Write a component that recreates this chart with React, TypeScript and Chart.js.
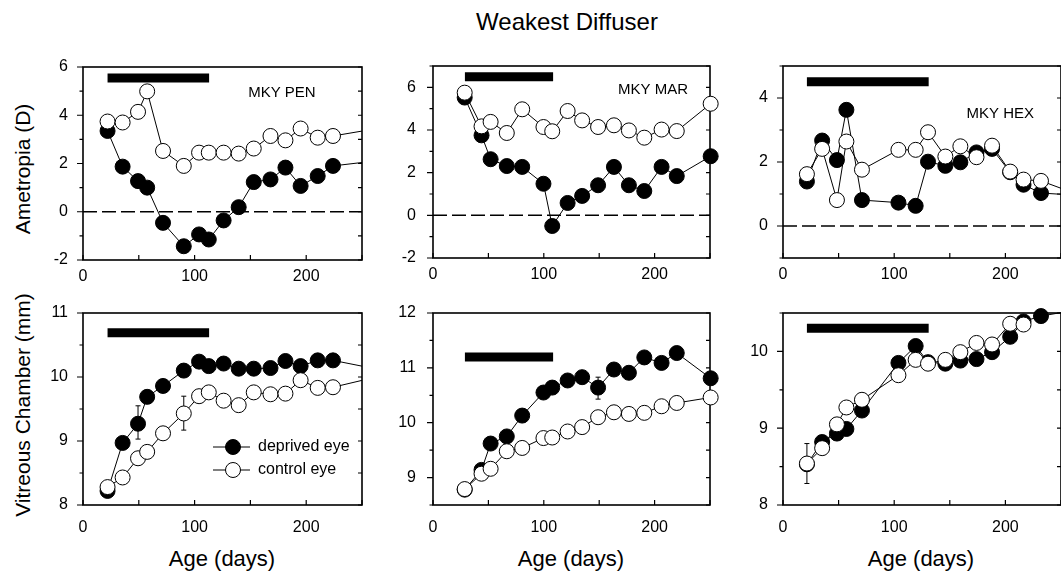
import React, { useEffect, useRef } from "react";
import { Chart, registerables } from "chart.js";

Chart.register(...registerables);

const FONT = "'Liberation Sans', Arial, Helvetica, sans-serif";

// ---------------- data (age in days) ----------------
const penAges = [22, 35.5, 49.3, 57.5, 71.7, 90.3, 104, 112.7, 126, 139.5, 153, 168, 181.4, 195, 210.3, 224, 270];
const penAmetropiaDeprived = [3.35, 1.87, 1.27, 1.0, -0.46, -1.43, -0.94, -1.15, -0.36, 0.19, 1.23, 1.34, 1.83, 1.07, 1.48, 1.9, 2.15];
const penAmetropiaControl = [3.74, 3.7, 4.14, 4.99, 2.52, 1.9, 2.45, 2.45, 2.45, 2.41, 2.62, 3.14, 2.96, 3.45, 3.07, 3.14, 3.5];
const penVitreousDeprived = [8.22, 8.97, 9.27, 9.69, 9.86, 10.1, 10.24, 10.17, 10.21, 10.13, 10.13, 10.14, 10.25, 10.17, 10.26, 10.26, 10.1];
const penVitreousControl = [8.28, 8.43, 8.73, 8.83, 9.12, 9.43, 9.7, 9.76, 9.63, 9.56, 9.76, 9.73, 9.74, 9.95, 9.83, 9.84, 10.03];
const penDiffuserPeriod = [22, 113];

const marAges = [28.6, 43.8, 52, 66.6, 80.5, 99.7, 107.6, 121.5, 134.6, 149, 163.3, 176.8, 190.7, 206.3, 220, 250.6];
const marAmetropiaDeprived = [5.52, 3.75, 2.63, 2.31, 2.27, 1.48, -0.5, 0.58, 0.91, 1.41, 2.27, 1.41, 1.14, 2.27, 1.84, 2.77];
const marAmetropiaControl = [5.75, 4.17, 4.38, 3.86, 4.97, 4.14, 3.94, 4.89, 4.45, 4.14, 4.22, 3.98, 3.64, 4.02, 3.95, 5.23];
const marVitreousDeprived = [8.78, 9.14, 9.62, 9.75, 10.13, 10.55, 10.64, 10.77, 10.83, 10.64, 10.97, 10.91, 11.19, 11.09, 11.27, 10.81];
const marVitreousControl = [8.79, 9.07, 9.16, 9.48, 9.54, 9.72, 9.73, 9.84, 9.92, 10.1, 10.19, 10.16, 10.18, 10.3, 10.36, 10.46];
const marDiffuserPeriod = [28.8, 108.4];

const hexAges = [21.5, 35.2, 48.5, 57, 71, 103.8, 119.3, 130.4, 146, 159.5, 174, 188, 204.3, 216.3, 232, 260];
const hexAmetropiaDeprived = [1.39, 2.67, 2.06, 3.63, 0.81, 0.73, 0.63, 2.01, 1.88, 1.99, 2.3, 2.41, 1.68, 1.29, 1.03, 0.97];
const hexAmetropiaControl = [1.62, 2.41, 0.81, 2.64, 1.76, 2.38, 2.38, 2.93, 2.17, 2.49, 2.15, 2.51, 1.7, 1.45, 1.41, 1.05];
const hexVitreousDeprived = [8.53, 8.82, 8.93, 8.99, 9.23, 9.85, 10.07, 9.86, 9.84, 9.88, 9.9, 9.99, 10.19, 10.39, 10.46, 10.53];
const hexVitreousControl = [8.54, 8.74, 9.05, 9.27, 9.37, 9.69, 9.89, 9.84, 9.89, 9.99, 10.11, 10.09, 10.36, 10.35, null, null];
const hexDiffuserPeriod = [21.5, 131];

// error bars: [age, low, high]
const penVitreousErrDeprived = [[49.3, 9.03, 9.55]];
const penVitreousErrControl = [[90.3, 9.17, 9.7]];
const marVitreousErrDeprived = [[149, 10.43, 10.83]];
const hexVitreousErrControl = [[21.5, 8.28, 8.8]];

const xTickLabels = [0, 100, 200];
const legendLabels = ["deprived eye", "control eye"];

type Panel = {
  key: string;
  L: number; T: number; R: number; B: number;
  ages: number[];
  deprived: (number | null)[];
  control: (number | null)[];
  period: number[];
  barY: number;
  yMin: number; yMax: number; yStep: number; yMajor: number;
  zero: boolean;
  label?: string; labelX?: number; labelY?: number;
  yPad: number; xPad: number;
  clipRight: number;
  errs: number[][];
  legend?: boolean;
};

const panels: Panel[] = [
  { key: "pa", L: 83, T: 67, R: 362, B: 260, ages: penAges, deprived: penAmetropiaDeprived, control: penAmetropiaControl,
    period: penDiffuserPeriod, barY: 5.54, yMin: -2, yMax: 6, yStep: 1, yMajor: 2, zero: true,
    label: "MKY PEN", labelX: 148, labelY: 4.94, yPad: 7, xPad: -1, clipRight: 0, errs: [] },
  { key: "ma", L: 433, T: 66, R: 710, B: 258, ages: marAges, deprived: marAmetropiaDeprived, control: marAmetropiaControl,
    period: marDiffuserPeriod, barY: 6.5, yMin: -2, yMax: 7, yStep: 1, yMajor: 2, zero: true,
    label: "MKY MAR", labelX: 167, labelY: 5.9, yPad: 9, xPad: -1, clipRight: 10, errs: [] },
  { key: "ha", L: 783, T: 66, R: 1061, B: 258, ages: hexAges, deprived: hexAmetropiaDeprived, control: hexAmetropiaControl,
    period: hexDiffuserPeriod, barY: 4.51, yMin: -1, yMax: 5, yStep: 1, yMajor: 2, zero: true,
    label: "MKY HEX", labelX: 165, labelY: 3.52, yPad: 7, xPad: -1, clipRight: 0, errs: [] },
  { key: "pv", L: 83, T: 313, R: 362, B: 505, ages: penAges, deprived: penVitreousDeprived, control: penVitreousControl,
    period: penDiffuserPeriod, barY: 10.69, yMin: 8, yMax: 11, yStep: 0.5, yMajor: 1, zero: false,
    yPad: 7, xPad: 5, clipRight: 0, errs: [...penVitreousErrDeprived, ...penVitreousErrControl], legend: true },
  { key: "mv", L: 433, T: 313, R: 710, B: 505, ages: marAges, deprived: marVitreousDeprived, control: marVitreousControl,
    period: marDiffuserPeriod, barY: 11.2, yMin: 8.5, yMax: 12, yStep: 0.5, yMajor: 1, zero: false,
    yPad: 9, xPad: 5, clipRight: 10, errs: marVitreousErrDeprived },
  { key: "hv", L: 783, T: 313, R: 1061, B: 505, ages: hexAges, deprived: hexVitreousDeprived, control: hexVitreousControl,
    period: hexDiffuserPeriod, barY: 10.3, yMin: 8, yMax: 10.5, yStep: 0.5, yMajor: 1, zero: false,
    yPad: 7, xPad: 5, clipRight: 0, errs: hexVitreousErrControl },
];

const isMajor = (v: number, m: number) => Math.abs(v - Math.round(v / m) * m) < 1e-6;

const PADL = 80, PADT = 30, PADR = 10, PADB = 40;

function makePlugin(p: Panel) {
  return {
    id: "panelFrame",
    beforeDatasetsDraw(chart: any) {
      const { ctx, chartArea: a } = chart;
      const xs = chart.scales.x, ys = chart.scales.y;
      ctx.save();
      ctx.strokeStyle = "#000";
      if (p.zero) {
        const py = ys.getPixelForValue(0);
        ctx.setLineDash([14, 5]);
        ctx.lineWidth = 1.5;
        ctx.beginPath();
        ctx.moveTo(a.left, py);
        ctx.lineTo(a.right, py);
        ctx.stroke();
        ctx.setLineDash([]);
      }
      ctx.lineWidth = 1.6;
      ctx.strokeRect(a.left, a.top, a.right - a.left, a.bottom - a.top);
      ctx.lineWidth = 1.2;
      ctx.beginPath();
      for (const t of ys.ticks) {
        const py = ys.getPixelForValue(t.value);
        const len = isMajor(t.value, p.yMajor) ? 6 : 3.5;
        ctx.moveTo(a.left - len, py);
        ctx.lineTo(a.left, py);
        ctx.moveTo(a.right, py);
        ctx.lineTo(a.right - 4, py);
      }
      for (const t of xs.ticks) {
        const px = xs.getPixelForValue(t.value);
        ctx.moveTo(px, a.bottom);
        ctx.lineTo(px, a.bottom - 5);
      }
      ctx.stroke();
      ctx.lineWidth = 1;
      ctx.beginPath();
      for (const e of p.errs) {
        const px = xs.getPixelForValue(e[0]);
        const lo = ys.getPixelForValue(e[1]);
        const hi = ys.getPixelForValue(e[2]);
        ctx.moveTo(px, lo); ctx.lineTo(px, hi);
        ctx.moveTo(px - 2.5, lo); ctx.lineTo(px + 2.5, lo);
        ctx.moveTo(px - 2.5, hi); ctx.lineTo(px + 2.5, hi);
      }
      ctx.stroke();
      ctx.restore();
    },
    afterDatasetsDraw(chart: any) {
      const { ctx, chartArea: a } = chart;
      const xs = chart.scales.x, ys = chart.scales.y;
      ctx.save();
      ctx.fillStyle = "#000";
      if (p.label) {
        ctx.font = `15px ${FONT}`;
        ctx.textAlign = "left";
        ctx.textBaseline = "middle";
        ctx.fillText(p.label, xs.getPixelForValue(p.labelX), ys.getPixelForValue(p.labelY));
      }
      if (p.legend) {
        const rows = [
          { y: a.top + 134, fill: "#000", text: legendLabels[0] },
          { y: a.top + 157, fill: "#fff", text: legendLabels[1] },
        ];
        for (const r of rows) {
          ctx.strokeStyle = "#000";
          ctx.lineWidth = 1;
          ctx.beginPath();
          ctx.moveTo(a.left + 130, r.y);
          ctx.lineTo(a.left + 167, r.y);
          ctx.stroke();
          ctx.beginPath();
          ctx.arc(a.left + 150, r.y, 7.5, 0, Math.PI * 2);
          ctx.fillStyle = r.fill;
          ctx.fill();
          ctx.stroke();
          ctx.fillStyle = "#000";
          ctx.font = `16px ${FONT}`;
          ctx.textAlign = "left";
          ctx.textBaseline = "middle";
          ctx.fillText(r.text, a.left + 175, r.y);
        }
      }
      ctx.restore();
    },
  };
}

function series(ages: number[], vals: (number | null)[]) {
  const out: { x: number; y: number }[] = [];
  ages.forEach((a, i) => {
    const v = vals[i];
    if (v !== null && v !== undefined) out.push({ x: a, y: v });
  });
  return out;
}

function PanelChart({ p }: { p: Panel }) {
  const ref = useRef<HTMLCanvasElement | null>(null);
  const w = p.R - p.L + PADL + PADR;
  const h = p.B - p.T + PADT + PADB;
  useEffect(() => {
    if (!ref.current) return;
    const clip = { left: 10, top: 10, right: p.clipRight, bottom: 10 };
    const pointStyle = (fill: string) => ({
      borderColor: "#000",
      borderWidth: 1,
      backgroundColor: fill,
      pointRadius: 7.5,
      pointHoverRadius: 7.5,
      pointBorderWidth: 1,
      pointBackgroundColor: fill,
      pointBorderColor: "#000",
      tension: 0,
      clip,
    });
    const tickFont = { family: FONT, size: 16 };
    const chart = new Chart(ref.current, {
      type: "line",
      data: {
        datasets: [
          { label: legendLabels[1], data: series(p.ages, p.control), order: 1, ...pointStyle("#fff") } as any,
          { label: legendLabels[0], data: series(p.ages, p.deprived), order: 2, ...pointStyle("#000") } as any,
          {
            label: "diffuser",
            data: [{ x: p.period[0], y: p.barY }, { x: p.period[1], y: p.barY }],
            order: 3,
            borderColor: "#000",
            borderWidth: 9,
            borderCapStyle: "butt",
            pointRadius: 0,
            pointHoverRadius: 0,
          } as any,
        ],
      },
      options: {
        responsive: false,
        animation: false,
        events: [],
        layout: { padding: { left: 0, top: PADT, right: PADR, bottom: 0 } },
        plugins: { legend: { display: false }, tooltip: { enabled: false } },
        scales: {
          x: {
            type: "linear",
            min: 0,
            max: 250,
            grid: { display: false },
            border: { display: false },
            ticks: {
              stepSize: 50,
              autoSkip: false,
              maxRotation: 0,
              padding: p.xPad,
              color: "#000",
              font: tickFont,
              callback: (v: any) => (xTickLabels.includes(Number(v)) ? String(v) : ""),
            },
            afterFit: (s: any) => { s.height = PADB; },
          },
          y: {
            type: "linear",
            min: p.yMin,
            max: p.yMax,
            grid: { display: false },
            border: { display: false },
            ticks: {
              stepSize: p.yStep,
              autoSkip: false,
              padding: p.yPad,
              color: "#000",
              font: tickFont,
              callback: (v: any) => (isMajor(Number(v), p.yMajor) ? String(Math.round(Number(v))) : ""),
            },
            afterFit: (s: any) => { s.width = PADL; },
          },
        },
      } as any,
      plugins: [makePlugin(p) as any],
    });
    return () => chart.destroy();
  }, [p]);
  return (
    <canvas
      ref={ref}
      width={w}
      height={h}
      style={{ position: "absolute", left: p.L - PADL, top: p.T - PADT, width: w, height: h }}
    />
  );
}

const textBase: React.CSSProperties = {
  position: "absolute",
  fontFamily: FONT,
  color: "#000",
  whiteSpace: "nowrap",
  textAlign: "center",
};

function CenteredText({ cx, cy, text, size, rotate }: { cx: number; cy: number; text: string; size: number; rotate?: boolean }) {
  const W = 320, H = 30;
  return (
    <div
      style={{
        ...textBase,
        left: cx - W / 2,
        top: cy - H / 2,
        width: W,
        height: H,
        lineHeight: `${H}px`,
        fontSize: size,
        transform: rotate ? "rotate(-90deg)" : undefined,
      }}
    >
      {text}
    </div>
  );
}

export default function App() {
  return (
    <div style={{ position: "absolute", left: 0, top: 0, width: 1061, height: 574, overflow: "hidden", background: "#fff" }}>
      <CenteredText cx={567} cy={22} text="Weakest Diffuser" size={24} />
      <CenteredText cx={23} cy={169} text="Ametropia (D)" size={21} rotate />
      <CenteredText cx={23} cy={405} text="Vitreous Chamber (mm)" size={21} rotate />
      <CenteredText cx={222} cy={559} text="Age (days)" size={22} />
      <CenteredText cx={571} cy={559} text="Age (days)" size={22} />
      <CenteredText cx={921} cy={559} text="Age (days)" size={22} />
      {panels.map((p) => (
        <PanelChart key={p.key} p={p} />
      ))}
    </div>
  );
}
